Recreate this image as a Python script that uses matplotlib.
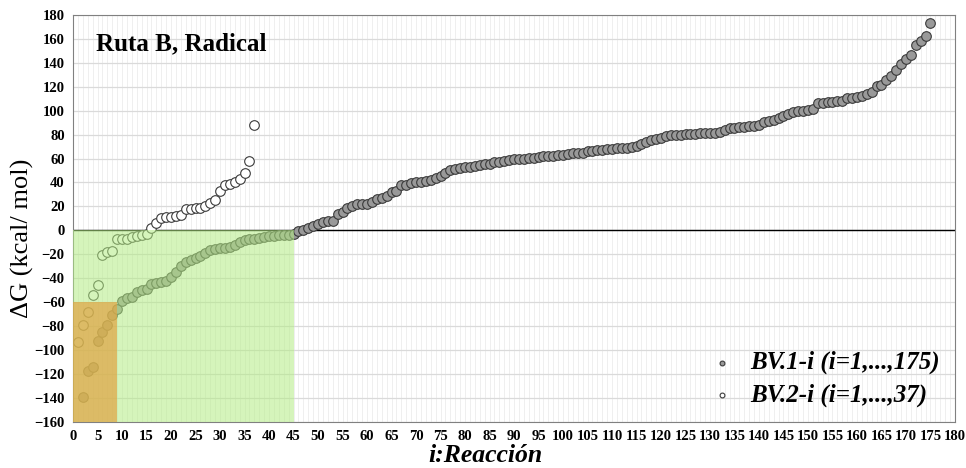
import numpy as np
import matplotlib
matplotlib.use("Agg")
import matplotlib.pyplot as plt
from matplotlib.patches import Rectangle

plt.rcParams['font.family'] = ['Liberation Serif', 'DejaVu Serif']

# BV.1-i, i visible from 2 to 175
bv1 = [-139.4, -117.7, -114, -92.3, -84.7, -78.8, -70.6, -65.5, -59.4,          # 2-10
       -56.6, -56, -51.5, -50, -49.5, -45.3, -44.4, -43, -42.2, -38.8,          # 11-20
       -34.6, -29.5, -26.1, -24.7, -23.3, -21.9, -19, -16.2, -15.4, -14.8,      # 21-30
       -14.8, -14.2, -12, -10, -7.8, -7.2, -7.2, -6.4, -5.8, -5,                # 31-40
       -4.4, -4.1, -3.8, -3.6, -3.4, -0.8, 0.6, 2, 3.7, 5.6,                    # 41-50
       7, 7.6, 7.6, 14, 15.5, 18.3, 20.6, 22, 21.7, 21.7,                       # 51-60
       24, 26, 26.8, 28.7, 32.4, 33.2, 37.5, 38, 39.4, 40,                      # 61-70
       40.3, 40.8, 42.3, 43.7, 45, 48, 50.3, 51, 51.7, 53,                      # 71-80
       53.3, 54, 54.4, 55.3, 55.8, 56.7, 57.2, 58, 58.6, 59.4,                  # 81-90
       60, 60, 60.3, 60.5, 61, 61.7, 61.7, 62.2, 62.8, 63.3,                    # 91-100
       63.9, 64.4, 65, 65, 66, 66.7, 67, 67.3, 67.6, 68,                        # 101-110
       68.6, 68.9, 69.2, 69.7, 70.3, 72.2, 74.2, 75.6, 76.4, 77,                # 111-120
       78.6, 79.7, 80, 80, 80.3, 80.6, 80.8, 81, 81.1, 81.4,                    # 121-130
       81.4, 82, 83.9, 85.3, 85.8, 86.4, 86.7, 86.9, 87.5, 88,                  # 131-140
       90.3, 91.7, 92.5, 94, 95.9, 97.2, 99.2, 100, 100, 100.6,                 # 141-150
       101.4, 106, 106.6, 106.9, 106.9, 107.7, 108.3, 110.5, 111, 111.6,        # 151-160
       112.4, 113.8, 115.7, 120.7, 121.2, 125.3, 128.7, 134.4, 139.1, 143.3,    # 161-170
       146.3, 155.1, 157.9, 162.5, 173]                                         # 171-175
x1 = np.arange(2, 2 + len(bv1))

# BV.2-i, i=1..37
bv2 = [-93, -79, -68, -54, -46, -21, -18.5, -17, -7, -7,
       -7, -6, -5, -4, -3, 2, 6, 10, 11, 11,
       12, 13, 17.5, 18, 19, 19, 20, 23, 25, 33,
       38, 39, 40, 43, 48, 58, 88]
x2 = np.arange(1, 1 + len(bv2))

fig = plt.figure(figsize=(9.66, 4.68), dpi=100)
ax = fig.add_axes([0.0756, 0.099, 0.913, 0.869])

ax.set_xlim(0, 180)
ax.set_ylim(-160, 180)
ax.set_xticks(np.arange(0, 181, 5))
ax.set_xticks(np.arange(0, 181, 1), minor=True)
ax.set_yticks(np.arange(-160, 181, 20))
ax.grid(which='minor', axis='x', color='#ececec', lw=0.6)
ax.grid(which='major', axis='x', color='#ececec', lw=0.6)
ax.grid(which='major', axis='y', color='#dadada', lw=0.9)
ax.set_axisbelow(True)
ax.tick_params(which='both', length=0)
ax.tick_params(axis='x', pad=6)
ax.tick_params(axis='y', pad=6)
for lab in ax.get_xticklabels() + ax.get_yticklabels():
    lab.set_fontweight('bold')
    lab.set_fontsize(10.5)
for sp in ax.spines.values():
    sp.set_color('#808080')

ax.axhline(0, color='black', lw=1, zorder=2)

ax.scatter(x1, bv1, s=48, c='#999999', edgecolors='#3a3a3a', linewidths=0.8, zorder=3,
           label='BV.1-i (i=1,...,175)')
ax.scatter(x2, bv2, s=48, c='white', edgecolors='#3a3a3a', linewidths=0.8, zorder=4,
           label='BV.2-i (i=1,...,37)')

# shaded zones on top of points
ax.add_patch(Rectangle((0, -160), 45, 160, facecolor='#b3ec84', alpha=0.55, lw=0, zorder=5))
ax.add_patch(Rectangle((0, -160), 9, 100, facecolor='#dfa645', alpha=0.72, lw=0, zorder=6))

ax.text(0.026, 0.929, 'Ruta B, Radical', transform=ax.transAxes, fontsize=18,
        fontweight='bold', va='center', ha='left')

ax.set_ylabel('ΔG (kcal/ mol)', fontsize=19)
ax.yaxis.set_label_coords(-0.044, 0.45)
ax.set_xlabel('i:Reacción', fontsize=18.5, fontweight='bold', fontstyle='italic')
ax.xaxis.set_label_coords(0.468, -0.055)

leg = ax.legend(loc='lower right', frameon=False, fontsize=18, markerscale=0.5,
                handletextpad=0.15, labelspacing=0.35, borderaxespad=0.2)
for t in leg.get_texts():
    t.set_fontweight('bold')
    t.set_fontstyle('italic')

fig.savefig('out.png', dpi=100)
